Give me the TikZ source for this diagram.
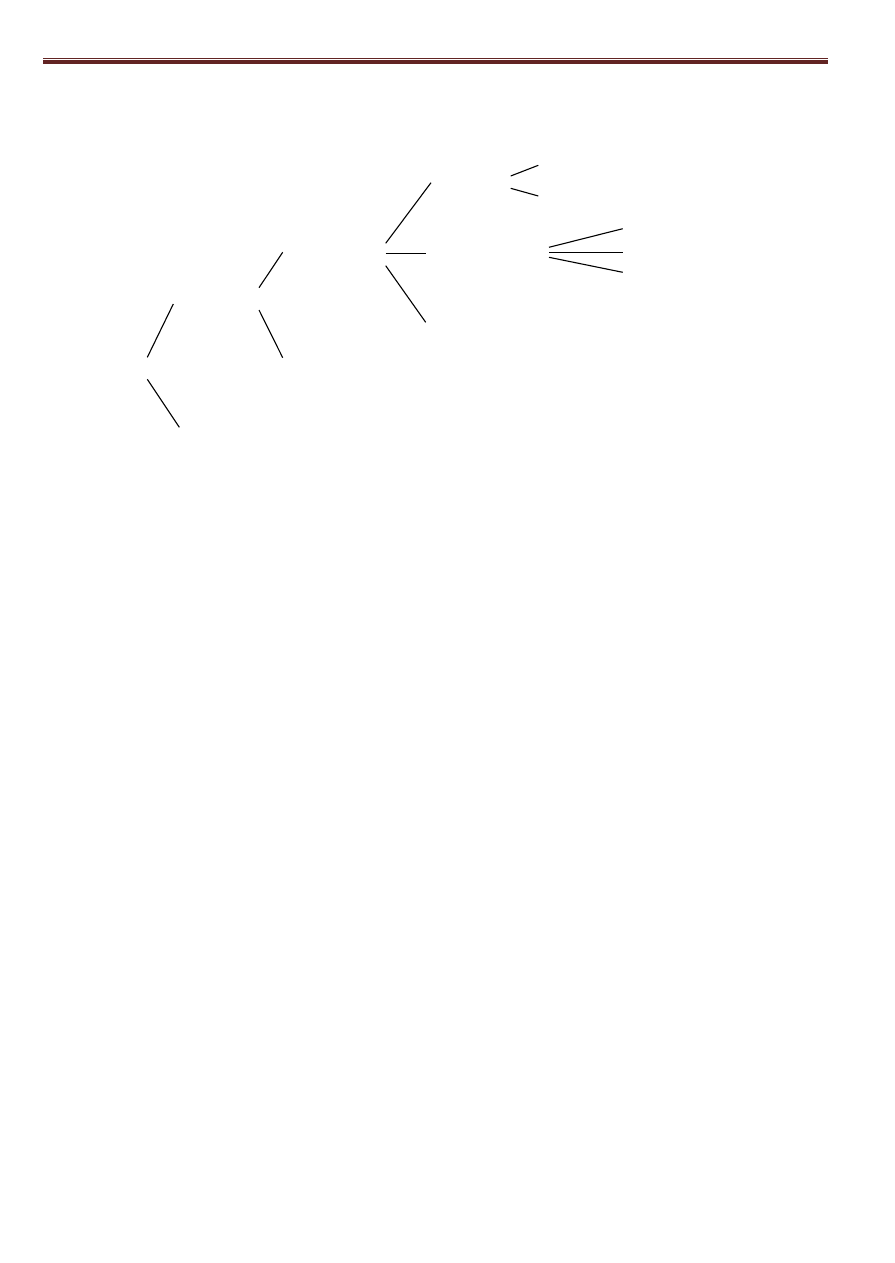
\documentclass[tikz,border=0pt]{standalone}
\definecolor{kopf}{HTML}{622423}
\begin{document}
\begin{tikzpicture}[x=1pt,y=-1pt,line width=1.1pt]
\useasboundingbox (0,0) rectangle (894,1263);
% Kopfzeile
\draw[kopf,line width=1pt] (43,58.5) -- (828,58.5);
\fill[kopf] (43,60) rectangle (828,64);
% Stufe 1
\coordinate (a1s) at (147.3,357.3);
\coordinate (a1e) at (173.3,304);
\coordinate (a2s) at (147.3,379.3);
\coordinate (a2e) at (179.3,427.3);
% Stufe 2
\coordinate (b1s) at (259,287.7);
\coordinate (b1e) at (282.7,252.3);
\coordinate (b2s) at (259,310);
\coordinate (b2e) at (282.7,357.7);
% Stufe 3
\coordinate (c1s) at (385.7,243.3);
\coordinate (c1e) at (431,182.7);
\coordinate (c2s) at (385.7,253.3);
\coordinate (c2e) at (425.7,253.3);
\coordinate (c3s) at (385.7,265.7);
\coordinate (c3e) at (425.7,322.3);
% Stufe 4
\coordinate (d1s) at (510.7,176);
\coordinate (d1e) at (538.3,165.3);
\coordinate (d2s) at (510.7,188.3);
\coordinate (d2e) at (538.3,196);
\coordinate (e1s) at (549,247.3);
\coordinate (e1e) at (622.7,228.7);
\coordinate (e2s) at (549,252.3);
\coordinate (e2e) at (622.7,252.3);
\coordinate (e3s) at (549,257.3);
\coordinate (e3e) at (622.7,272.3);
\foreach \k in {a1,a2,b1,b2,c1,c2,c3,d1,d2,e1,e2,e3}{
	\draw (\k s) -- (\k e);
}
\end{tikzpicture}
\end{document}
